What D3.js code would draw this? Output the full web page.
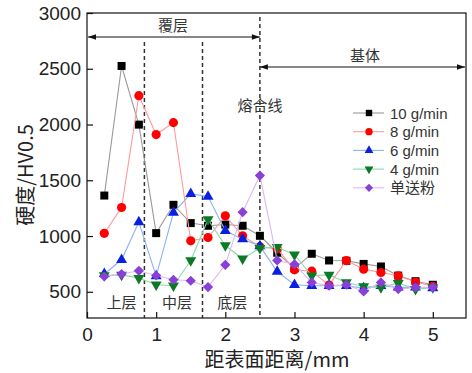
<!DOCTYPE html>
<html>
<head>
<meta charset="utf-8">
<script src="https://cdn.jsdelivr.net/npm/d3@7"></script>
<style>
  body { margin: 0; background: #fff; }
  text { font-family: "Liberation Sans", Arial, sans-serif; }
  .cjk { font-family: "Noto Sans CJK SC", sans-serif; }
</style>
</head>
<body>
<div id="chart"></div>
<script>
var width = 472, height = 373;
var margin = {top: 13, right: 6, bottom: 55, left: 87};

// distances from surface (mm)
var dist = [0.25, 0.5, 0.75, 1.0, 1.25, 1.5, 1.75, 2.0, 2.25, 2.5,
            2.75, 3.0, 3.25, 3.5, 3.75, 4.0, 4.25, 4.5, 4.75, 5.0];

var hv10 = [1363, 2525, 1999, 1026, 1280, 1116, 1092, 1103, 1092, 1002,
            850, 710, 841, 781, 778, 750, 727, 645, 595, 563];
var hv8  = [1024, 1256, 2259, 1910, 2017, 957, 987, 1181, 1002, 905,
            885, 697, 685, 560, 780, 703, 673, 644, 587, 550];
var hv6  = [660, 787, 1125, 640, 1210, 1378, 1354, 1047, 972, 910,
            682, 563, 554, 554, 554, 533, 554, 540, 540, 533];
var hv4  = [648, 652, 623, 563, 554, 781, 1148, 915, 796, 892,
            901, 832, 644, 652, 584, 548, 540, 578, 524, 540];
var hvSingle = [637, 659, 688, 646, 608, 599, 542, 742, 1214, 1542,
                781, 748, 584, 554, 563, 503, 584, 524, 540, 540];

var seriesNames = ["10 g/min", "8 g/min", "6 g/min", "4 g/min", "单送粉"];
var seriesValues = [hv10, hv8, hv6, hv4, hvSingle];
var markerColors = ["#000000", "#ff0000", "#0a1fe0", "#0a7a26", "#8a3fd8"];
var lineColors = ["#9a9a9a", "#ff9a9a", "#8ab4f0", "#8ed8ac", "#dcb8f2"];
var shapes = ["square", "circle", "up", "down", "diamond"];

var xTicks = [0, 1, 2, 3, 4, 5];
var yTicks = [500, 1000, 1500, 2000, 2500, 3000];
var layerBounds = [0.83, 1.67, 2.5];
var layerNames = ["上层", "中层", "底层"];
var layerPos = [0.5, 1.3, 2.1];

var svg = d3.select("#chart").append("svg")
  .attr("width", width)
  .attr("height", height);

var x = d3.scaleLinear().domain([0, 5.48]).range([margin.left, width - margin.right]);
var y = d3.scaleLinear().domain([265, 3000]).range([height - margin.bottom, margin.top]);

var plotL = x.range()[0], plotR = x.range()[1];
var plotT = y.range()[1], plotB = y.range()[0];

svg.append("defs").append("marker")
  .attr("id", "arrow")
  .attr("viewBox", "0 0 10 10")
  .attr("refX", 10).attr("refY", 5)
  .attr("markerWidth", 10).attr("markerHeight", 8)
  .attr("markerUnits", "userSpaceOnUse")
  .attr("orient", "auto-start-reverse")
  .append("path")
  .attr("d", "M0,1.5 L10,5 L0,8.5 Z")
  .attr("fill", "#111");

// dashed layer boundaries
layerBounds.forEach(function(b, i) {
  svg.append("line")
    .attr("x1", x(b)).attr("x2", x(b))
    .attr("y1", i == 2 ? plotT + 4 : 42)
    .attr("y2", plotB)
    .attr("stroke", "#333")
    .attr("stroke-width", 1.5)
    .attr("stroke-dasharray", "4,3");
});

// layer names
layerNames.forEach(function(n, i) {
  svg.append("text").attr("class", "cjk")
    .attr("x", x(layerPos[i]))
    .attr("y", 308)
    .attr("text-anchor", "middle")
    .attr("font-size", "15px")
    .attr("fill", "#333")
    .text(n);
});

// arrows
svg.append("line")
  .attr("x1", plotL + 1).attr("x2", x(2.5))
  .attr("y1", 37).attr("y2", 37)
  .attr("stroke", "#111").attr("stroke-width", 1.2)
  .attr("marker-start", "url(#arrow)")
  .attr("marker-end", "url(#arrow)");
svg.append("text").attr("class", "cjk")
  .attr("x", 173).attr("y", 31)
  .attr("text-anchor", "middle")
  .attr("font-size", "15px").attr("fill", "#333")
  .text("覆层");

svg.append("line")
  .attr("x1", x(2.5)).attr("x2", plotR - 1)
  .attr("y1", 67).attr("y2", 67)
  .attr("stroke", "#111").attr("stroke-width", 1.2)
  .attr("marker-start", "url(#arrow)")
  .attr("marker-end", "url(#arrow)");
svg.append("text").attr("class", "cjk")
  .attr("x", 365).attr("y", 61)
  .attr("text-anchor", "middle")
  .attr("font-size", "15px").attr("fill", "#333")
  .text("基体");

svg.append("text").attr("class", "cjk")
  .attr("x", 260).attr("y", 111)
  .attr("text-anchor", "middle")
  .attr("font-size", "15px").attr("fill", "#333")
  .text("熔合线");

function symbolPath(shape) {
  if (shape == "square") return d3.symbol(d3.symbolSquare, 64)();
  if (shape == "circle") return d3.symbol(d3.symbolCircle, 66)();
  if (shape == "up" || shape == "down") return d3.symbol(d3.symbolTriangle, 52)();
  return d3.symbol(d3.symbolSquare, 52)();
}
function symbolRot(shape) {
  if (shape == "down") return " rotate(180)";
  if (shape == "diamond") return " rotate(45)";
  return "";
}

var line = d3.line()
  .x(function(d) { return x(d[0]); })
  .y(function(d) { return y(d[1]); });

seriesValues.forEach(function(vals, s) {
  var pts = dist.map(function(d, i) { return [d, vals[i]]; });
  var g = svg.append("g");
  g.append("path")
    .attr("d", line(pts))
    .attr("fill", "none")
    .attr("stroke", lineColors[s])
    .attr("stroke-width", 1.1);
  g.selectAll("path.pt").data(pts).enter().append("path")
    .attr("class", "pt")
    .attr("d", symbolPath(shapes[s]))
    .attr("transform", function(d) {
      return "translate(" + x(d[0]) + "," + y(d[1]) + ")" + symbolRot(shapes[s]);
    })
    .attr("fill", markerColors[s]);
});

// legend
var legY0 = 113, legStep = 18.7;
seriesNames.forEach(function(n, s) {
  var ly = legY0 + s * legStep;
  svg.append("line")
    .attr("x1", 353).attr("x2", 384)
    .attr("y1", ly).attr("y2", ly)
    .attr("stroke", lineColors[s]).attr("stroke-width", 1.1);
  svg.append("path")
    .attr("d", symbolPath(shapes[s]))
    .attr("transform", "translate(369," + ly + ")" + symbolRot(shapes[s]) + " scale(0.8)")
    .attr("fill", markerColors[s]);
  svg.append("text")
    .attr("class", s == 4 ? "cjk" : null)
    .attr("x", 390).attr("y", ly + 5.5)
    .attr("font-size", "15px")
    .attr("fill", "#333")
    .text(n);
});

// frame
svg.append("rect")
  .attr("x", plotL).attr("y", plotT)
  .attr("width", plotR - plotL).attr("height", plotB - plotT)
  .attr("fill", "none").attr("stroke", "#111").attr("stroke-width", 1.2);

// axes
var xAxis = svg.append("g")
  .attr("transform", "translate(0," + plotB + ")")
  .call(d3.axisBottom(x).tickValues(xTicks).tickFormat(d3.format("d"))
    .tickSizeInner(-6).tickSizeOuter(0).tickPadding(10));
var yAxis = svg.append("g")
  .attr("transform", "translate(" + plotL + ",0)")
  .call(d3.axisLeft(y).tickValues(yTicks).tickFormat(d3.format("d"))
    .tickSizeInner(-6).tickSizeOuter(0).tickPadding(6));

[xAxis, yAxis].forEach(function(a) {
  a.select(".domain").remove();
  a.selectAll("line").attr("stroke", "#111").attr("stroke-width", 1.2);
  a.selectAll("text")
    .attr("font-family", "'Liberation Sans', Arial, sans-serif")
    .attr("font-size", "19px")
    .attr("fill", "#222");
});

// axis titles
svg.append("text").attr("class", "cjk")
  .attr("x", 277).attr("y", 367)
  .attr("text-anchor", "middle")
  .attr("font-size", "20px").attr("fill", "#222")
  .text("距表面距离/mm");

svg.append("text").attr("class", "cjk")
  .attr("transform", "translate(33,175) rotate(-90)")
  .attr("text-anchor", "middle")
  .attr("font-size", "20px").attr("fill", "#222")
  .text("硬度/HV0.5");
</script>
</body>
</html>
